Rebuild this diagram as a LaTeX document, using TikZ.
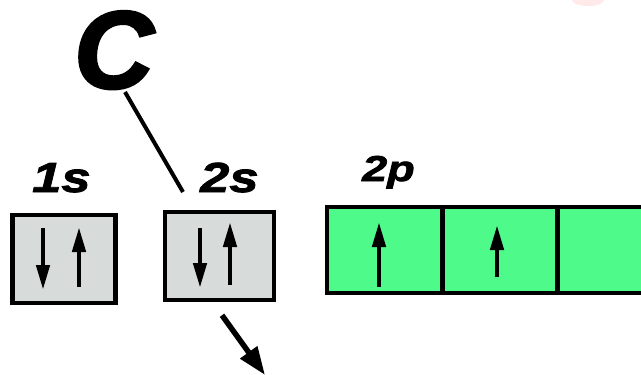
\documentclass[tikz,border=0pt]{standalone}
\usepackage{fontspec}
\setmainfont{Liberation Sans}
\newfontfamily\lblfont[FakeStretch=1.25,FakeBold=2]{Liberation Sans}
\newfontfamily\elemfont[FakeBold=2.5]{Liberation Sans}
\usetikzlibrary{arrows.meta}
\definecolor{boxgray}{RGB}{215,220,218}
\definecolor{boxgreen}{RGB}{77,250,138}

\begin{document}
\begin{tikzpicture}[x=1pt,y=-1pt,
    spin/.style={line width=4.5pt,-{Triangle[length=25pt,width=13pt]}},
    conn/.style={line width=4pt},
    orb/.style={font=\lblfont\bfseries\itshape\fontsize{42}{42}\selectfont,anchor=base west,inner sep=0pt}]
  \useasboundingbox (0,0) rectangle (641,375);
  \clip (0,0) rectangle (641,375);

  \fill[red!35!white,opacity=.25] (588,0) ellipse (16 and 6);

  \begin{scope}[every node/.style={draw,line width=4.5pt,inner sep=0pt,minimum height=88pt}]
    \node[fill=boxgray,minimum width=103pt] (1s) at (64,259) {};
    \node[fill=boxgray,minimum width=109pt] (2s) at (219.5,256) {};
    \node[fill=boxgreen,minimum width=115pt,minimum height=86pt] (2px) at (384.5,250) {};
    \node[fill=boxgreen,minimum width=115pt,minimum height=86pt] (2py) at (500,250) {};
    \node[fill=boxgreen,minimum width=115pt,minimum height=86pt] (2pz) at (615,250) {};
  \end{scope}

  % labels
  \node[orb] (l1s) at (32,192) {1s};
  \node[orb] (l2s) at (200,192) {2s};
  \node[orb,font=\lblfont\bfseries\itshape\fontsize{36}{36}\selectfont] (l2p) at (362,181) {2p};
  \node[font=\elemfont\bfseries\itshape\fontsize{110}{110}\selectfont,anchor=base west,inner sep=0pt] (C) at (74,88) {C};

  \coordinate (ctop) at (125,92);
  \coordinate (cbot) at (183,192);
  \draw[conn] (ctop) -- (cbot);

  % electrons
  \draw[spin] ([shift={(-21,-31)}]1s.center) -- ([shift={(-21,31)}]1s.center);
  \draw[spin] ([shift={(15,28)}]1s.center) -- ([shift={(15,-32)}]1s.center);
  \draw[spin] ([shift={(-19.5,-28)}]2s.center) -- ([shift={(-19.5,32)}]2s.center);
  \draw[spin] ([shift={(10.5,29)}]2s.center) -- ([shift={(10.5,-34)}]2s.center);
  \draw[spin] ([shift={(-5.5,37)}]2px.center) -- ([shift={(-5.5,-28)}]2px.center);
  \draw[spin] ([shift={(-3,27)}]2py.center) -- ([shift={(-3,-25)}]2py.center);

  \coordinate (out) at (265,375);
  \draw[line width=5.5pt,-{Triangle[length=28pt,width=20pt]}] ([shift={(2.5,13)}]2s.south) -- (out);
\end{tikzpicture}
\end{document}
